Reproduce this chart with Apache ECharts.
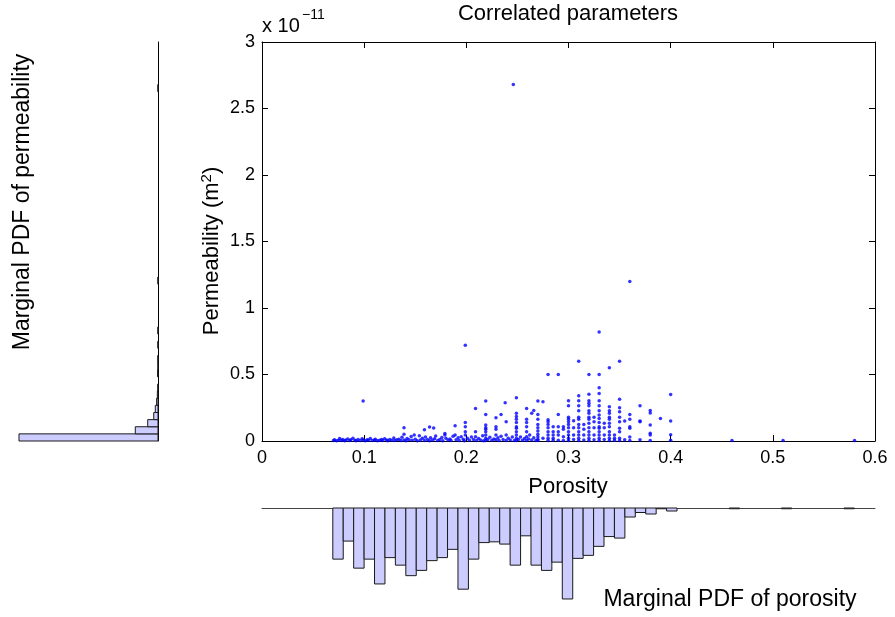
<!DOCTYPE html>
<html>
<head>
<meta charset="utf-8">
<script src="https://cdn.jsdelivr.net/npm/echarts@6/dist/echarts.min.js"></script>
<style>
  html, body { margin: 0; padding: 0; background: #fff; }
  #chart { width: 895px; height: 617px; }
</style>
</head>
<body>
<div id="chart"></div>
<script>
// Porosity (-) and permeability (x 1e-11 m^2) samples
const samples = [
  [0.070,0.003],[0.071,0.010],[0.073,0.001],[0.075,0.006],[0.076,0.018],[0.078,0.004],[0.079,0.012],[0.081,0.002],
  [0.082,0.008],[0.084,0.015],[0.086,0.003],[0.087,0.009],[0.089,0.020],[0.091,0.005],[0.092,0.001],[0.094,0.011],
  [0.096,0.004],[0.098,0.016],[0.099,0.007],[0.099,0.300],[0.101,0.002],[0.103,0.010],[0.104,0.005],[0.106,0.019],
  [0.108,0.003],[0.110,0.008],[0.111,0.013],[0.113,0.002],[0.115,0.006],[0.117,0.011],[0.118,0.003],[0.120,0.017],
  [0.122,0.007],[0.123,0.002],[0.125,0.012],[0.127,0.005],[0.129,0.022],[0.130,0.003],[0.132,0.009],[0.134,0.014],
  [0.136,0.004],[0.137,0.028],[0.139,0.007],[0.139,0.100],[0.139,0.050],[0.141,0.002],[0.142,0.018],[0.144,0.010],
  [0.146,0.033],[0.147,0.005],[0.149,0.045],[0.150,0.013],[0.152,0.002],[0.154,0.040],[0.155,0.008],[0.157,0.021],
  [0.159,0.004],[0.159,0.085],[0.160,0.030],[0.162,0.011],[0.164,0.002],[0.164,0.105],[0.165,0.025],[0.167,0.007],
  [0.168,0.098],[0.169,0.016],[0.170,0.038],[0.172,0.004],[0.174,0.012],[0.176,0.027],[0.177,0.002],[0.179,0.056],
  [0.179,0.045],[0.180,0.020],[0.182,0.008],[0.184,0.015],[0.185,0.003],[0.187,0.035],[0.189,0.045],[0.189,0.115],
  [0.190,0.010],[0.192,0.024],[0.193,0.004],[0.195,0.032],[0.197,0.013],[0.198,0.002],[0.199,0.045],[0.199,0.070],
  [0.199,0.108],[0.199,0.140],[0.199,0.720],
  [0.201,0.020],[0.203,0.006],[0.205,0.030],[0.207,0.012],[0.209,0.245],[0.209,0.070],[0.209,0.032],[0.210,0.003],
  [0.212,0.018],[0.214,0.008],[0.216,0.040],[0.217,0.002],[0.219,0.300],[0.219,0.200],[0.219,0.120],[0.219,0.100],
  [0.219,0.088],[0.219,0.070],[0.219,0.045],[0.219,0.020],[0.219,0.004],[0.221,0.012],[0.223,0.028],[0.225,0.005],
  [0.227,0.015],[0.229,0.175],[0.229,0.108],[0.229,0.088],[0.229,0.045],[0.229,0.010],[0.231,0.025],[0.232,0.004],
  [0.234,0.200],[0.234,0.035],[0.236,0.012],[0.238,0.288],[0.239,0.145],[0.239,0.045],[0.239,0.003],[0.241,0.020],
  [0.243,0.008],[0.245,0.030],[0.246,2.680],[0.247,0.004],[0.249,0.325],[0.249,0.208],[0.249,0.185],[0.249,0.163],
  [0.249,0.140],[0.249,0.108],[0.249,0.095],[0.249,0.070],[0.249,0.045],[0.249,0.020],[0.249,0.003],[0.251,0.012],
  [0.253,0.030],[0.255,0.006],[0.257,0.018],[0.259,0.245],[0.259,0.163],[0.259,0.140],[0.259,0.108],[0.259,0.070],
  [0.259,0.032],[0.259,0.004],[0.261,0.015],[0.262,0.045],[0.264,0.208],[0.264,0.008],[0.266,0.230],[0.266,0.025],
  [0.268,0.003],
  [0.270,0.300],[0.270,0.200],[0.270,0.163],[0.270,0.125],[0.270,0.100],[0.270,0.075],[0.270,0.050],[0.270,0.032],
  [0.270,0.013],[0.270,0.003],[0.275,0.295],[0.275,0.020],
  [0.280,0.500],[0.280,0.160],[0.280,0.145],[0.280,0.125],[0.280,0.100],[0.280,0.070],[0.280,0.045],[0.280,0.020],
  [0.280,0.004],[0.285,0.108],[0.285,0.070],[0.285,0.045],[0.285,0.020],[0.285,0.006],
  [0.290,0.500],[0.290,0.200],[0.290,0.108],[0.290,0.070],[0.290,0.045],[0.290,0.006],
  [0.295,0.108],[0.295,0.088],[0.295,0.032],[0.295,0.003],
  [0.300,0.303],[0.300,0.265],[0.300,0.178],[0.300,0.163],[0.300,0.145],[0.300,0.125],[0.300,0.100],[0.300,0.070],
  [0.300,0.045],[0.300,0.020],[0.300,0.004],[0.305,0.153],[0.305,0.100],[0.305,0.045],[0.305,0.012],
  [0.310,0.600],[0.310,0.340],[0.310,0.303],[0.310,0.265],[0.310,0.228],[0.310,0.178],[0.310,0.163],[0.310,0.125],
  [0.310,0.100],[0.310,0.070],[0.310,0.045],[0.310,0.020],[0.310,0.004],[0.315,0.125],[0.315,0.088],[0.315,0.045],
  [0.315,0.008],
  [0.320,0.500],[0.320,0.351],[0.320,0.303],[0.320,0.283],[0.320,0.265],[0.320,0.228],[0.320,0.208],[0.320,0.178],
  [0.320,0.163],[0.320,0.133],[0.320,0.100],[0.320,0.070],[0.320,0.045],[0.320,0.020],[0.320,0.004],
  [0.325,0.178],[0.325,0.145],[0.325,0.100],[0.325,0.045],[0.325,0.010],
  [0.330,0.820],[0.330,0.500],[0.330,0.400],[0.330,0.358],[0.330,0.303],[0.330,0.265],[0.330,0.228],[0.330,0.195],
  [0.330,0.170],[0.330,0.140],[0.330,0.108],[0.330,0.095],[0.330,0.070],[0.330,0.045],[0.330,0.020],[0.330,0.004],
  [0.335,0.133],[0.335,0.100],[0.335,0.045],[0.335,0.012],
  [0.340,0.550],[0.340,0.258],[0.340,0.228],[0.340,0.208],[0.340,0.178],[0.340,0.163],[0.340,0.133],[0.340,0.108],
  [0.340,0.070],[0.340,0.045],[0.340,0.020],[0.340,0.004],[0.345,0.045],[0.345,0.020],[0.345,0.006],
  [0.350,0.600],[0.350,0.313],[0.350,0.250],[0.350,0.220],[0.350,0.178],[0.350,0.145],[0.350,0.095],[0.350,0.070],
  [0.350,0.020],[0.350,0.004],[0.355,0.150],[0.355,0.010],
  [0.360,1.200],[0.360,0.200],[0.360,0.163],[0.360,0.108],[0.360,0.095],[0.360,0.030],[0.360,0.004],
  [0.370,0.265],[0.370,0.150],[0.370,0.145],[0.370,0.010],
  [0.380,0.230],[0.380,0.210],[0.380,0.120],[0.380,0.058],[0.380,0.045],[0.380,0.003],
  [0.390,0.170],
  [0.400,0.350],[0.400,0.150],[0.400,0.047],[0.400,0.005],
  [0.460,0.003],[0.510,0.003],[0.580,0.003]
];

// Marginal histogram of porosity: 50 bins from the smallest to the largest sample
const porosityBinStart = 0.0693;
const porosityBinWidth = 0.01021;
const porosityCounts = [
  68, 44, 80, 68, 101, 66, 76, 90, 83, 70,
  66, 55, 108, 68, 46, 45, 48, 76, 37, 76,
  83, 72, 121, 67, 63, 51, 38, 40, 12, 6,
  8, 1, 4, 0, 0, 0, 0, 0, 1, 0,
  0, 0, 0, 1, 0, 0, 0, 0, 0, 1
];

// Marginal histogram of permeability (x 1e-11 m^2): 50 bins from 0 to the largest sample
const permBinStart = 0;
const permBinWidth = 0.0536;
const permCounts = [
  1500, 245, 111, 46, 29, 15, 7, 2, 0, 4,
  1, 2, 0, 1, 0, 1, 0, 0, 0, 0,
  0, 0, 1, 0, 0, 0, 0, 0, 0, 0,
  0, 0, 0, 0, 0, 0, 0, 0, 0, 0,
  0, 0, 0, 0, 0, 0, 0, 0, 0, 1
];

const FONT = "'Liberation Sans', Arial, Helvetica, sans-serif";
const BAR_FILL = '#ccccff';
const BAR_EDGE = '#1a1a1a';

const porosityBins = porosityCounts.map((c, i) => [
  porosityBinStart + i * porosityBinWidth,
  porosityBinStart + (i + 1) * porosityBinWidth,
  c
]);
const permBins = permCounts.map((c, i) => [
  permBinStart + i * permBinWidth,
  permBinStart + (i + 1) * permBinWidth,
  c
]);

const chart = echarts.init(document.getElementById('chart'), null, { renderer: 'canvas' });

// Boxed axes with inward ticks on all four sides
function boxAxis(extra) {
  return Object.assign({
    axisLine: { show: true, onZero: false, lineStyle: { color: '#000', width: 1 } },
    axisTick: { show: true, inside: true, length: 6, lineStyle: { color: '#000', width: 1 } },
    splitLine: { show: false }
  }, extra);
}

function label(text, x, y, size, rotation) {
  return {
    type: 'text', x: x, y: y, rotation: rotation || 0,
    style: { text: text, font: size + 'px ' + FONT, fill: '#000',
      textAlign: 'center', textVerticalAlign: 'middle', align: 'center', verticalAlign: 'middle' }
  };
}

chart.setOption({
  animation: false,
  backgroundColor: '#fff',
  grid: [
    { left: 262, top: 42, width: 613, height: 399 },   // scatter
    { left: 262, top: 508, width: 613, height: 100 },  // porosity marginal (below)
    { left: 10, top: 42, width: 148, height: 399 }     // permeability marginal (left)
  ],
  xAxis: [
    boxAxis({ gridIndex: 0, type: 'value', position: 'bottom', min: 0, max: 0.6, interval: 0.1,
      axisLabel: { color: '#000', fontSize: 18, fontFamily: FONT, margin: 8 } }),
    boxAxis({ gridIndex: 0, type: 'value', position: 'top', min: 0, max: 0.6, interval: 0.1,
      axisLabel: { show: false } }),
    { gridIndex: 1, type: 'value', position: 'top', min: 0, max: 0.6,
      axisLine: { show: true, onZero: false, lineStyle: { color: '#444', width: 1 } },
      axisTick: { show: false }, axisLabel: { show: false }, splitLine: { show: false } },
    { gridIndex: 2, type: 'value', min: 0, max: 1597, inverse: true, show: false }
  ],
  yAxis: [
    boxAxis({ gridIndex: 0, type: 'value', position: 'left', min: 0, max: 3, interval: 0.5,
      axisLabel: { color: '#000', fontSize: 18, fontFamily: FONT, margin: 7 } }),
    boxAxis({ gridIndex: 0, type: 'value', position: 'right', min: 0, max: 3, interval: 0.5,
      axisLabel: { show: false } }),
    { gridIndex: 1, type: 'value', min: 0, max: 133, inverse: true, show: false },
    { gridIndex: 2, type: 'value', position: 'right', min: 0, max: 3,
      axisLine: { show: true, onZero: false, lineStyle: { color: '#000', width: 1 } },
      axisTick: { show: false }, axisLabel: { show: false }, splitLine: { show: false } }
  ],
  series: [
    {
      type: 'custom',
      xAxisIndex: 2, yAxisIndex: 2,
      data: porosityBins,
      clip: false,
      renderItem: function (params, api) {
        const c = api.value(2);
        if (!c) return null;
        const p0 = api.coord([api.value(0), 0]);
        const p1 = api.coord([api.value(1), c]);
        return {
          type: 'rect',
          shape: { x: p0[0], y: p0[1], width: p1[0] - p0[0], height: p1[1] - p0[1] },
          style: { fill: BAR_FILL, stroke: BAR_EDGE, lineWidth: 1 }
        };
      }
    },
    {
      type: 'custom',
      xAxisIndex: 3, yAxisIndex: 3,
      data: permBins,
      clip: false,
      renderItem: function (params, api) {
        const c = api.value(2);
        if (!c) return null;
        const p0 = api.coord([0, api.value(0)]);
        const p1 = api.coord([c, api.value(1)]);
        return {
          type: 'rect',
          shape: { x: p1[0], y: p1[1], width: p0[0] - p1[0], height: p0[1] - p1[1] },
          style: { fill: BAR_FILL, stroke: BAR_EDGE, lineWidth: 1 }
        };
      }
    },
    {
      type: 'scatter',
      xAxisIndex: 0, yAxisIndex: 0,
      data: samples,
      symbol: 'circle',
      symbolSize: 3.5,
      itemStyle: { color: '#0000ff' },
      z: 5
    }
  ],
  graphic: [
    label('Correlated parameters', 568, 14, 22),
    { type: 'text', x: 262, y: 26,
      style: { text: 'x 10', font: '20px ' + FONT, fill: '#000',
        textAlign: 'left', textVerticalAlign: 'middle', align: 'left', verticalAlign: 'middle' } },
    { type: 'text', x: 302, y: 15,
      style: { text: '\u221211', font: '14px ' + FONT, fill: '#000',
        textAlign: 'left', textVerticalAlign: 'middle', align: 'left', verticalAlign: 'middle' } },
    label('Porosity', 568, 487, 22),
    { type: 'text', x: 212, y: 251, rotation: Math.PI / 2,
      style: { text: '{a|Permeability (m}{s|2}{a|)}', fill: '#000',
        textAlign: 'center', textVerticalAlign: 'middle', align: 'center', verticalAlign: 'middle',
        rich: {
          a: { fontSize: 22, fontFamily: FONT, fill: '#000', color: '#000', lineHeight: 26 },
          s: { fontSize: 15, fontFamily: FONT, fill: '#000', color: '#000', verticalAlign: 'top', lineHeight: 26 }
        } } },
    label('Marginal PDF of permeability', 23, 202, 23, Math.PI / 2),
    label('Marginal PDF of porosity', 730, 600, 23)
  ]
});
</script>
</body>
</html>
